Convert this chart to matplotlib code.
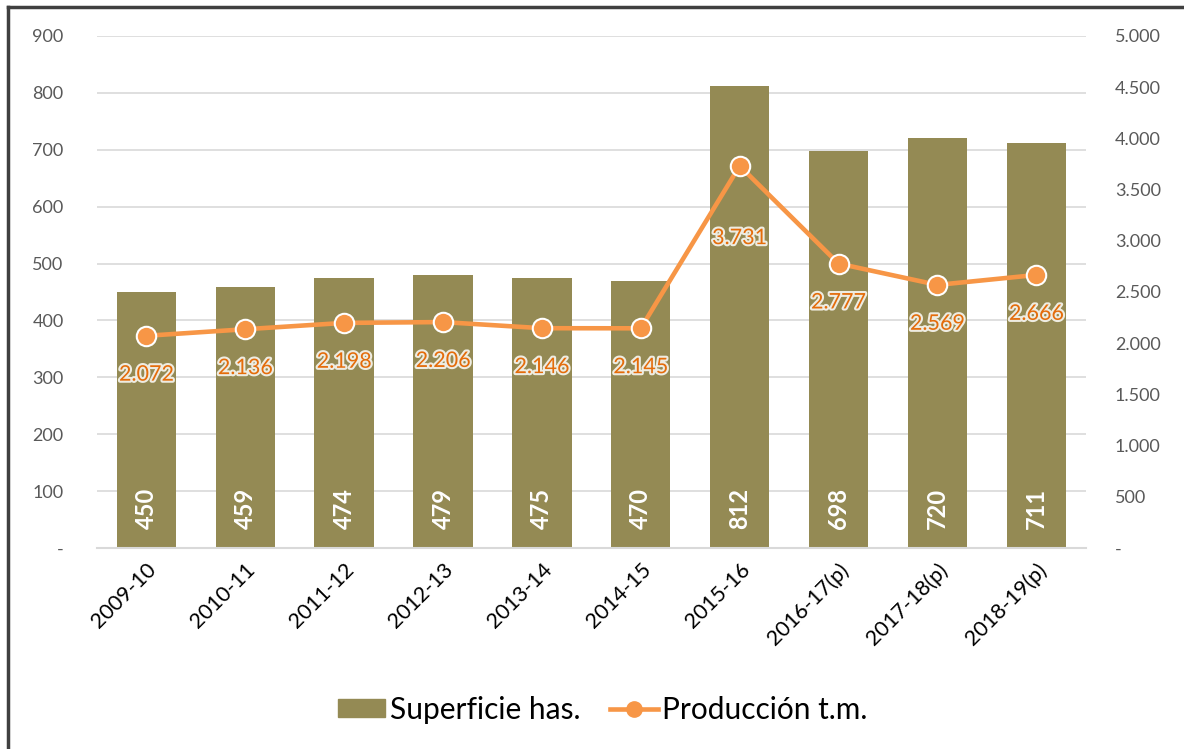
import matplotlib
matplotlib.use("Agg")
import matplotlib.pyplot as plt
import matplotlib.patheffects as pe
from matplotlib.lines import Line2D
from matplotlib.ticker import FuncFormatter, MultipleLocator

plt.rcParams['font.family'] = ['Lato', 'DejaVu Sans']

categories = ["2009-10", "2010-11", "2011-12", "2012-13", "2013-14",
              "2014-15", "2015-16", "2016-17(p)", "2017-18(p)", "2018-19(p)"]
superficie = [450, 459, 474, 479, 475, 470, 812, 698, 720, 711]
produccion = [2072, 2136, 2198, 2206, 2146, 2145, 3731, 2777, 2569, 2666]

BAR_COLOR = "#948A54"
LINE_COLOR = "#F79646"
LABEL_COLOR = "#E46C0A"
TICK_COLOR = "#595959"
GRID_COLOR = "#D9D9D9"

fig = plt.figure(figsize=(11.84, 7.49), dpi=100)
ax = fig.add_axes([0.0819, 0.2684, 0.8351, 0.6836])
ax2 = ax.twinx()

x = list(range(len(categories)))
bars = ax.bar(x, superficie, width=0.6, color=BAR_COLOR, zorder=2)
for xi, v in zip(x, superficie):
    ax.text(xi, 70, f"{v}", rotation=90, ha="center", va="center",
            color="white", fontsize=17, fontweight="bold", zorder=3)

ax.set_xlim(-0.5, len(categories) - 0.5)
ax.set_ylim(0, 900)
ax.yaxis.set_major_locator(MultipleLocator(100))
ax.yaxis.set_major_formatter(FuncFormatter(lambda v, p: "-" if v == 0 else f"{int(v)}"))
ax.grid(axis="y", color=GRID_COLOR, linewidth=1.2, zorder=0)
ax.set_axisbelow(True)
for s in ["top", "right", "left"]:
    ax.spines[s].set_visible(False)
ax.spines["bottom"].set_color(GRID_COLOR)
ax.spines["bottom"].set_linewidth(1.5)
ax.tick_params(axis="y", length=0, pad=24, labelsize=13, labelcolor=TICK_COLOR)
ax.tick_params(axis="x", length=0, pad=8, labelsize=15.5, labelcolor="black")
ax.set_xticks(x)
ax.set_xticklabels(categories, rotation=45, ha="right", rotation_mode="anchor")

ax2.set_ylim(0, 5000)
ax2.yaxis.set_major_locator(MultipleLocator(500))
ax2.yaxis.set_major_formatter(FuncFormatter(
    lambda v, p: "-" if v == 0 else f"{int(v):,}".replace(",", ".")))
ax2.tick_params(axis="y", length=0, pad=21, labelsize=13, labelcolor=TICK_COLOR)
for s in ["top", "right", "left", "bottom"]:
    ax2.spines[s].set_visible(False)

ax2.plot(x, produccion, color=LINE_COLOR, linewidth=3.3, marker="o",
         markersize=14, markerfacecolor=LINE_COLOR, markeredgecolor="white",
         markeredgewidth=1.5, zorder=4)

offsets = [-28, -28, -28, -28, -28, -28, -52, -28, -28, -28]
for xi, v, off in zip(x, produccion, offsets):
    ax2.annotate(f"{v:,}".replace(",", "."), (xi, v), xytext=(0, off),
                 textcoords="offset points", ha="center", va="center",
                 color=LABEL_COLOR, fontsize=15.5, zorder=5,
                 path_effects=[pe.withStroke(linewidth=3, foreground="#EEECE1")])

handles = [plt.Rectangle((0, 0), 1, 1, color=BAR_COLOR),
           Line2D([0], [0], color=LINE_COLOR, linewidth=3.3, marker="o",
                  markersize=11, markerfacecolor=LINE_COLOR, markeredgecolor=LINE_COLOR)]
fig.legend(handles, ["Superficie has.", "Producción t.m."], loc="center",
           bbox_to_anchor=(0.509, 0.052), ncol=2, frameon=False, fontsize=21.5,
           handlelength=1.6, handleheight=0.55, handletextpad=0.15,
           columnspacing=1.0)

# outer frame (left and top edges visible)
fig.add_artist(Line2D([0.0068, 0.0068], [0.0, 0.9905], transform=fig.transFigure,
                      color="#404040", linewidth=2.5))
fig.add_artist(Line2D([0.0068, 1.0], [0.9905, 0.9905], transform=fig.transFigure,
                      color="#404040", linewidth=2.5))

fig.savefig("out.png", dpi=100)
